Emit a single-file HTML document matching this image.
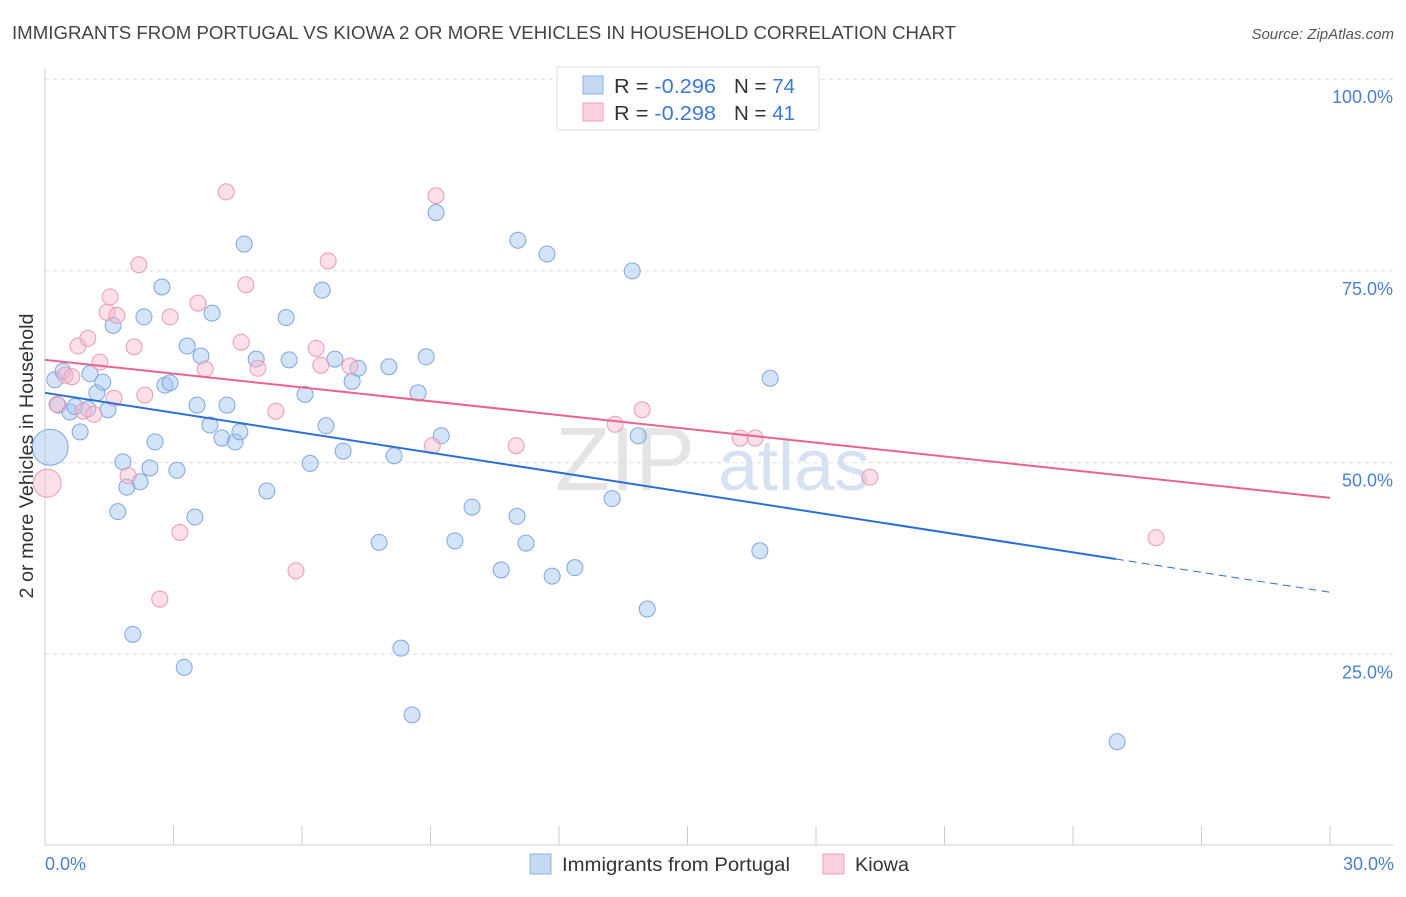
<!DOCTYPE html>
<html><head><meta charset="utf-8"><style>
body{margin:0;background:#fff;font-family:"Liberation Sans",sans-serif;}
svg text{font-family:"Liberation Sans",sans-serif;}
</style></head><body>
<svg id="chart" width="1406" height="892" viewBox="0 0 1406 892">
<text x="12" y="39" font-size="18" fill="#444" textLength="944" lengthAdjust="spacingAndGlyphs">IMMIGRANTS FROM PORTUGAL VS KIOWA 2 OR MORE VEHICLES IN HOUSEHOLD CORRELATION CHART</text>
<text x="1394" y="39" font-size="15" fill="#555" font-style="italic" text-anchor="end">Source: ZipAtlas.com</text>
<text x="555" y="490" font-size="90" fill="#e4e4e4" font-family="Liberation Serif">ZIP</text>
<text x="718" y="490" font-size="72" fill="#d6e2f2">atlas</text>
<g id="grid"></g><g id="axes"></g><g id="marks"></g><g id="trends"></g>
<text transform="translate(33,456) rotate(-90)" font-size="19" fill="#333" text-anchor="middle" textLength="285" lengthAdjust="spacingAndGlyphs">2 or more Vehicles in Household</text>
<text x="45" y="870" font-size="18" fill="#4a7fd0">0.0%</text>
<text x="1394" y="870" font-size="18" fill="#4a7fd0" text-anchor="end">30.0%</text>
<g>
<rect x="557" y="67" width="262" height="63" fill="#fff" stroke="#ddd"/>
<rect x="583" y="76" width="20" height="18" fill="#c5d9f5" stroke="#8fb0e3"/>
<rect x="583" y="103" width="20" height="18" fill="#fbd0de" stroke="#eea2bb"/>
<text x="614" y="93" font-size="20" fill="#333" textLength="102" lengthAdjust="spacingAndGlyphs">R = <tspan fill="#3b78d8">-0.296</tspan></text>
<text x="734" y="93" font-size="20" fill="#333" textLength="61" lengthAdjust="spacingAndGlyphs">N = <tspan fill="#3b78d8">74</tspan></text>
<text x="614" y="120" font-size="20" fill="#333" textLength="102" lengthAdjust="spacingAndGlyphs">R = <tspan fill="#3b78d8">-0.298</tspan></text>
<text x="734" y="120" font-size="20" fill="#333" textLength="61" lengthAdjust="spacingAndGlyphs">N = <tspan fill="#3b78d8">41</tspan></text>
</g>
<g>
<rect x="530" y="854" width="21" height="20" fill="#c5d9f5" stroke="#8fb0e3"/>
<text x="562" y="871" font-size="19.5" fill="#333" textLength="228" lengthAdjust="spacingAndGlyphs">Immigrants from Portugal</text>
<rect x="823" y="854" width="21" height="20" fill="#fbd0de" stroke="#eea2bb"/>
<text x="855" y="871" font-size="19.5" fill="#333" textLength="54" lengthAdjust="spacingAndGlyphs">Kiowa</text>
</g>
</svg>
<script>
const yTicks=[25,50,75,100];
const yTickLabels=["25.0%","50.0%","75.0%","100.0%"];
const xTicks=[0,3,6,9,12,15,18,21,24,27,30];
const blueX=[0.12,0.23,0.30,0.42,0.58,0.70,0.82,1.00,1.05,1.21,1.35,1.47,1.59,1.70,1.82,1.91,2.05,2.22,2.31,2.45,2.57,2.73,2.80,2.92,3.08,3.25,3.32,3.50,3.55,3.64,3.85,3.90,4.13,4.25,4.44,4.55,4.65,4.93,5.18,5.63,5.70,6.07,6.19,6.47,6.56,6.77,6.96,7.17,7.31,7.80,8.03,8.15,8.31,8.57,8.71,8.90,9.13,9.25,9.57,9.97,10.65,11.02,11.04,11.23,11.72,11.84,12.37,13.24,13.71,13.85,14.06,16.69,16.93,25.03];
const blueY=[52.0,60.8,57.5,61.9,56.6,57.3,54.0,57.0,61.6,59.1,60.5,56.9,67.9,43.6,50.1,46.8,27.6,47.5,69.0,49.3,52.7,72.9,60.1,60.4,49.0,23.3,65.2,42.9,57.5,63.9,54.9,69.5,53.2,57.5,52.7,54.0,78.5,63.5,46.3,68.9,63.4,58.9,49.9,72.5,54.8,63.5,51.5,60.6,62.3,39.6,62.5,50.9,25.8,17.1,59.1,63.8,82.6,53.5,39.8,44.2,36.0,43.0,79.0,39.5,77.2,35.2,36.3,45.3,75.0,53.5,30.9,38.5,61.0,13.6];
const pinkX=[0.05,0.28,0.47,0.63,0.77,0.89,1.00,1.14,1.28,1.45,1.52,1.61,1.68,1.94,2.08,2.19,2.33,2.68,2.92,3.15,3.57,3.74,4.23,4.58,4.69,4.97,5.39,5.86,6.33,6.44,6.61,7.12,9.04,9.13,11.00,13.31,13.94,16.23,16.58,19.26,25.94];
const pinkY=[47.3,57.6,61.4,61.2,65.2,56.7,66.2,56.3,63.1,69.6,71.6,58.4,69.2,48.3,65.1,75.8,58.8,32.2,69.0,40.9,70.8,62.2,85.3,65.7,73.2,62.3,56.7,35.9,64.9,62.7,76.3,62.6,52.2,84.8,52.2,55.0,56.9,53.2,53.2,48.1,40.2];
const blueTrend=[59.1,-0.867];
const pinkTrend=[63.4,-0.6];
const X0=45,X1=1330,Y0=846,PPX=(X1-X0)/30,PPY=7.668;
const xs=v=>X0+v*PPX, ys=v=>Y0-v*PPY;
const NS="http://www.w3.org/2000/svg";
function mk(parent,tag,attrs){const e=document.createElementNS(NS,tag);for(const k in attrs)e.setAttribute(k,attrs[k]);document.getElementById(parent).appendChild(e);return e;}
yTicks.forEach((t,i)=>{
 const g=mk('grid','line',{x1:X0,x2:1393,y1:ys(t),y2:ys(t),stroke:'#dcdcdc','stroke-dasharray':'4,4'});
 
 
 const l=mk('grid','text',{x:1393,y:ys(t)+24,'font-size':18,fill:'#4a7fd0','text-anchor':'end'});
 l.textContent=yTickLabels[i];
 
 
});
const ax=mk('axes','line',{x1:X0,x2:1393,y1:845,y2:845,stroke:'#ccc'});


const ay=mk('axes','line',{x1:X0,x2:X0,y1:68,y2:845,stroke:'#ccc'});


xTicks.forEach(t=>{
 const tk=mk('axes','line',{x1:xs(t),x2:xs(t),y1:826,y2:845,stroke:'#ccc'});
 
 
});
blueX.forEach((v,i)=>{
 const c=mk('marks','circle',{cx:xs(v),cy:ys(blueY[i]),r:i===0?18:8,fill:'rgba(160,195,240,0.45)',stroke:'#7fa6e0','stroke-width':1});
 
 
});
pinkX.forEach((v,i)=>{
 const c=mk('marks','circle',{cx:xs(v),cy:ys(pinkY[i]),r:i===0?14:8,fill:'rgba(248,185,205,0.45)',stroke:'#eb9ab6','stroke-width':1});
 
 
});
const bt=x=>blueTrend[0]+blueTrend[1]*x, pt=x=>pinkTrend[0]+pinkTrend[1]*x;
const b1=mk('trends','line',{x1:xs(0),y1:ys(bt(0)),x2:xs(25),y2:ys(bt(25)),stroke:'#2b6fd6','stroke-width':2});


const b2=mk('trends','line',{x1:xs(25),y1:ys(bt(25)),x2:xs(30),y2:ys(bt(30)),stroke:'#2b6fd6','stroke-width':1,'stroke-dasharray':'8,5'});


const p1=mk('trends','line',{x1:xs(0),y1:ys(pt(0)),x2:xs(30),y2:ys(pt(30)),stroke:'#e8648e','stroke-width':2});


</script>
</body></html>
